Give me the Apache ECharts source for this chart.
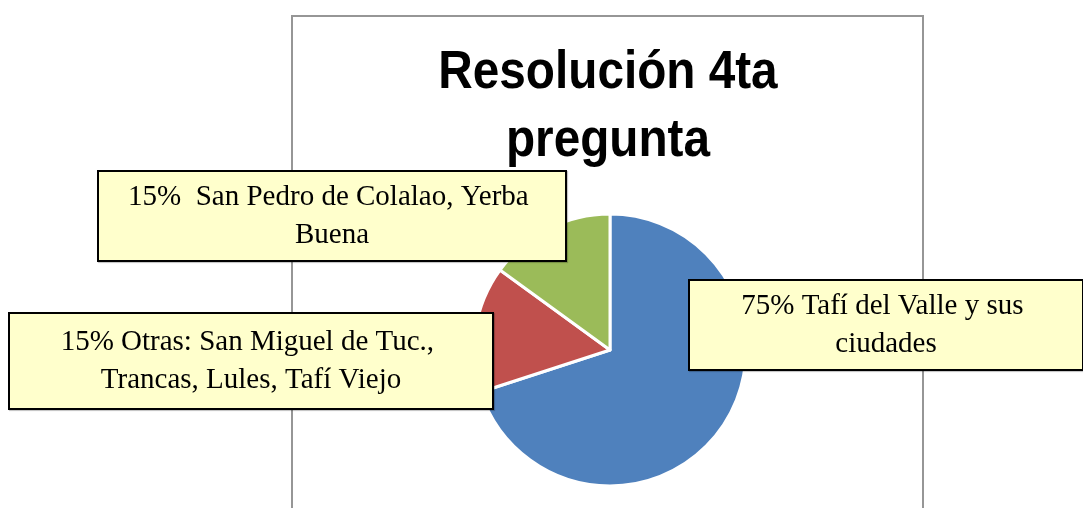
<!DOCTYPE html>
<html>
<head>
<meta charset="utf-8">
<script src="https://cdn.jsdelivr.net/npm/echarts@6/dist/echarts.min.js"></script>
<style>
  html, body { margin: 0; padding: 0; background: #fff; }
  #chart { width: 1083px; height: 508px; }
</style>
</head>
<body>
<div id="chart"></div>
<script>
// ── Data ──
const categories = [
  '75% Tafí del Valle y sus ciudades',
  '15% Otras: San Miguel de Tuc., Trancas, Lules, Tafí Viejo',
  '15%  San Pedro de Colalao, Yerba Buena'
];
const shares = [70, 15, 15];
const sliceColors = ['#4F81BD', '#C0504D', '#9BBB59'];

const titleText = 'Resolución 4ta\npregunta';

// label box placement (centre of each callout) and text width
const labelBoxes = [
  { cx: 886, cy: 325, width: 340, padding: [6, 26] },
  { cx: 251, cy: 361, width: 430, padding: [9, 26] },
  { cx: 332, cy: 216, width: 430, padding: [6, 18] }
];

const SERIF = '"Liberation Serif", "Times New Roman", serif';
const SANS = '"Liberation Sans", Arial, sans-serif';

const chart = echarts.init(document.getElementById('chart'), null, { renderer: 'canvas' });

chart.setOption({
  animation: false,
  backgroundColor: '#ffffff',
  graphic: [
    {
      type: 'rect',
      z: -1,
      shape: { x: 292, y: 16, width: 631, height: 600 },
      style: { fill: 'none', stroke: '#969696', lineWidth: 2 }
    },
    {
      // title: bold narrow face, squeezed horizontally like Arial Narrow
      type: 'text',
      x: 608,
      y: 39,
      scaleX: 0.9,
      style: {
        text: titleText,
        font: 'bold 53px ' + SANS,
        lineHeight: 68,
        fill: '#000',
        align: 'center',
        verticalAlign: 'top'
      }
    }
  ],
  series: [
    {
      type: 'pie',
      center: [610, 350],
      radius: 136,
      startAngle: 90,
      clockwise: true,
      avoidLabelOverlap: false,
      selectedMode: false,
      itemStyle: { borderColor: '#fff', borderWidth: 3 },
      emphasis: { disabled: true },
      labelLine: { show: false },
      label: {
        show: true,
        position: 'outside',
        formatter: '{b}',
        fontFamily: SERIF,
        fontSize: 29,
        lineHeight: 38,
        color: '#000',
        overflow: 'break',
        backgroundColor: '#FFFFCC',
        borderColor: '#000',
        borderWidth: 2,
        shadowColor: 'rgba(0,0,0,0.25)',
        shadowOffsetX: 1,
        shadowOffsetY: 1,
        shadowBlur: 1
      },
      labelLayout: function (p) {
        const b = labelBoxes[p.dataIndex];
        return { x: b.cx, y: b.cy, align: 'center', verticalAlign: 'middle' };
      },
      data: categories.map(function (name, i) {
        return {
          name: name,
          value: shares[i],
          itemStyle: { color: sliceColors[i] },
          label: { width: labelBoxes[i].width, padding: labelBoxes[i].padding }
        };
      })
    }
  ]
});
</script>
</body>
</html>
